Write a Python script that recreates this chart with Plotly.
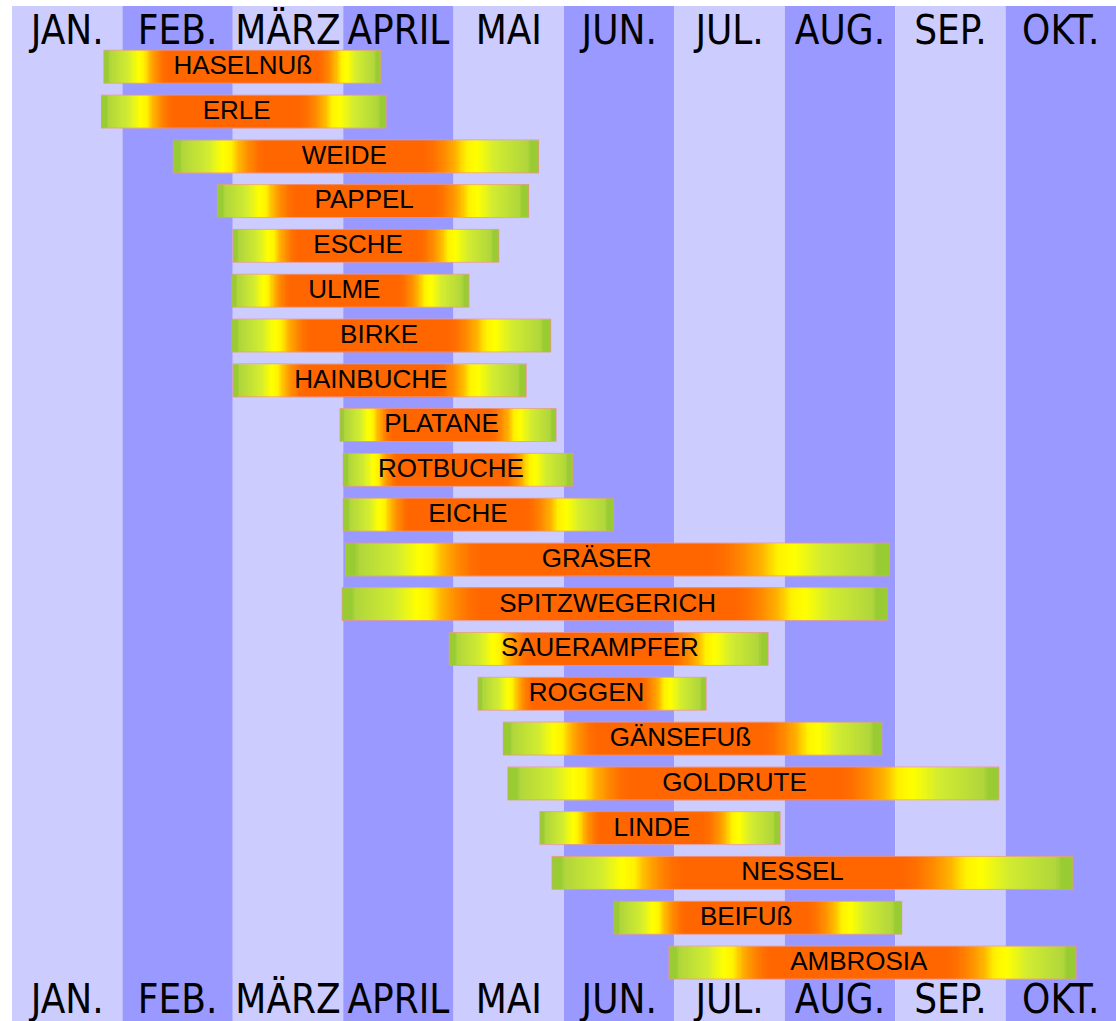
import numpy as np
import plotly.graph_objects as go

# ---------------- data ----------------
months = ["JAN.", "FEB.", "MÄRZ", "APRIL", "MAI", "JUN.", "JUL.", "AUG.", "SEP.", "OKT."]

plants = ["HASELNUß", "ERLE", "WEIDE", "PAPPEL", "ESCHE", "ULME", "BIRKE", "HAINBUCHE",
          "PLATANE", "ROTBUCHE", "EICHE", "GRÄSER", "SPITZWEGERICH", "SAUERAMPFER",
          "ROGGEN", "GÄNSEFUß", "GOLDRUTE", "LINDE", "NESSEL", "BEIFUß", "AMBROSIA"]

# season in months since 1 Jan (0 = start of January)
season_start = [0.83, 0.81, 1.46, 1.86, 2.00, 1.99, 1.99, 2.00, 2.97, 3.00, 3.00,
                3.02, 2.99, 3.96, 4.22, 4.45, 4.49, 4.78, 4.89, 5.45, 5.95]
peak_start   = [1.41, 1.46, 2.29, 2.56, 2.59, 2.52, 2.70, 2.65, 3.45, 3.50, 3.60,
                4.25, 4.24, 4.69, 4.72, 5.30, 5.59, 5.33, 6.07, 6.10, 6.87]
peak_end     = [2.77, 2.61, 3.73, 3.82, 3.68, 3.50, 3.95, 3.85, 4.33, 4.45, 4.66,
                6.34, 6.55, 5.96, 5.69, 6.81, 7.50, 6.26, 8.07, 7.20, 8.47]
season_end   = [3.34, 3.39, 4.77, 4.68, 4.41, 4.14, 4.88, 4.66, 4.93, 5.08, 5.45,
                7.95, 7.93, 6.85, 6.29, 7.88, 8.94, 6.96, 9.61, 8.06, 9.64]

# ---------------- styling ----------------
LIGHT = "#ccccff"
DARK = "#9999ff"
HALF = 0.368            # half bar height in row units
Y_TOP, Y_BOT = -1.355, 21.306
Y_LABEL_TOP, Y_LABEL_BOT = -0.74, 20.90

n = len(plants)
rows = np.arange(n)

# gradient heatmap (0 = season edge, 1 = main season)
step = 0.01
x_edges = np.round(np.arange(0, 10 + step / 2, step), 4)
x_mid = (x_edges[:-1] + x_edges[1:]) / 2
y_edges = []
z = []
for i in range(n):
    s, ps, pe, e = season_start[i], peak_start[i], peak_end[i], season_end[i]
    row = np.full(x_mid.shape, np.nan)
    left = (x_mid >= s) & (x_mid < ps)
    core = (x_mid >= ps) & (x_mid <= pe)
    right = (x_mid > pe) & (x_mid <= e)
    row[left] = (x_mid[left] - s) / (ps - s)
    row[core] = 1.0
    row[right] = (e - x_mid[right]) / (e - pe)
    row = np.round(row, 3)
    z.append([None if np.isnan(v) else float(v) for v in row])
    y_edges.append(i - HALF)
    y_edges.append(i + HALF)
    if i < n - 1:
        z.append([None] * len(x_mid))

colorscale = [
    [0.00, "#99cc33"], [0.07, "#99cc33"], [0.10, "#b0d63c"],
    [0.38, "#d2ec30"], [0.54, "#ffff00"], [0.63, "#fff200"],
    [0.72, "#ffb400"], [0.82, "#ff8c00"], [0.92, "#ff7000"], [1.00, "#ff6600"],
]

fig = go.Figure()

fig.add_trace(go.Heatmap(
    x=x_edges.tolist(), y=y_edges, z=z,
    colorscale=colorscale, zmin=0, zmax=1, showscale=False,
    hoverinfo="skip", zsmooth=False,
))

# thin outline around each bar
ox, oy = [], []
for i in range(n):
    s, e = season_start[i], season_end[i]
    ox += [s, e, e, s, s, None]
    oy += [i - HALF, i - HALF, i + HALF, i + HALF, i - HALF, None]
fig.add_trace(go.Scatter(x=ox, y=oy, mode="lines",
                         line=dict(color="rgba(240,150,140,0.7)", width=1),
                         hoverinfo="skip", showlegend=False))

# plant labels centred on main season
label_x = [(a + b) / 2 for a, b in zip(peak_start, peak_end)]
fig.add_trace(go.Scatter(
    x=label_x, y=rows + 0.02, mode="text", text=plants,
    textfont=dict(family="Liberation Sans, Arial, sans-serif", size=26, color="#000000"),
    hoverinfo="skip", showlegend=False))

# month labels top and bottom
month_x = [k + 0.5 for k in range(len(months))]
for yy in (Y_LABEL_TOP, Y_LABEL_BOT):
    fig.add_trace(go.Scatter(
        x=month_x, y=[yy] * len(months), mode="text", text=months,
        textfont=dict(family="DejaVu Sans Condensed, Liberation Sans Narrow, Liberation Sans, sans-serif",
                      size=40, color="#000000"),
        hoverinfo="skip", showlegend=False))

# alternating month columns
shapes = []
for k in range(len(months)):
    shapes.append(dict(type="rect", xref="x", yref="paper", x0=k, x1=k + 1, y0=0, y1=1,
                       fillcolor=LIGHT if k % 2 == 0 else DARK, line=dict(width=0),
                       layer="below"))

fig.update_layout(
    width=1116, height=1021,
    margin=dict(l=12, r=0, t=6, b=0),
    paper_bgcolor="white", plot_bgcolor="white",
    shapes=shapes, showlegend=False,
    xaxis=dict(range=[0, 10], visible=False, fixedrange=True),
    yaxis=dict(range=[Y_BOT, Y_TOP], visible=False, fixedrange=True),
)

fig.write_html("out.html", config={"displayModeBar": False, "staticPlot": True},
               post_script="document.body.style.margin='0';document.body.style.overflow='hidden';")
